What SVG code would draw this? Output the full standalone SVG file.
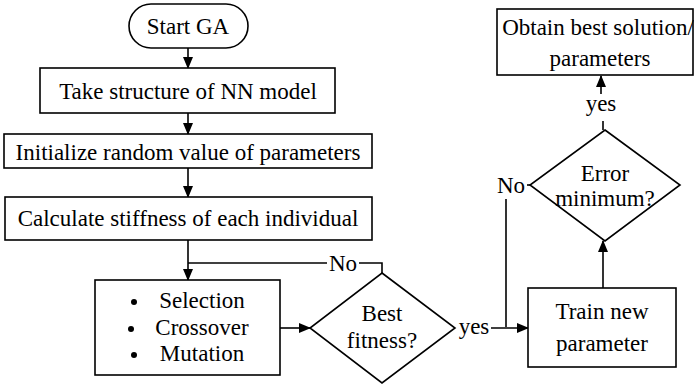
<svg xmlns="http://www.w3.org/2000/svg" width="694" height="384" viewBox="0 0 694 384">
<style>
.n{fill:#fff;stroke:#000;stroke-width:1.6}
.t{font-family:"Liberation Serif","Times New Roman",serif;font-size:23px;fill:#000;text-anchor:middle}
.c{fill:none;stroke:#000;stroke-width:1.6}
</style>
<defs>
<marker id="a" markerWidth="12" markerHeight="12" refX="11" refY="5" orient="auto" markerUnits="userSpaceOnUse" viewBox="0 0 12 10">
<path d="M0,0 L12,5 L0,10 Z" fill="#000"/>
</marker>
</defs>
<rect width="694" height="384" fill="#fff"/>
<g id="connectors">
<line class="c" x1="188" y1="48" x2="188" y2="68" marker-end="url(#a)"/>
<line class="c" x1="188" y1="113" x2="188" y2="134" marker-end="url(#a)"/>
<line class="c" x1="188" y1="168" x2="188" y2="197" marker-end="url(#a)"/>
<line class="c" x1="188" y1="240" x2="188" y2="280" marker-end="url(#a)"/>
<polyline class="c" points="188,263 327,263"/>
<polyline class="c" points="359,263 382,263 382,273"/>
<text class="t" x="343" y="271">No</text>
<line class="c" x1="280" y1="328" x2="310" y2="328" marker-end="url(#a)"/>
<text class="t" x="474" y="334">yes</text>
<line class="c" x1="491" y1="328" x2="528" y2="328" marker-end="url(#a)"/>
<polyline class="c" points="506,327 506,199"/>
<text class="t" x="511" y="193">No</text>
<line class="c" x1="527" y1="185" x2="530" y2="185"/>
<line class="c" x1="603" y1="288" x2="603" y2="241" marker-end="url(#a)"/>
<line class="c" x1="603" y1="130" x2="603" y2="121"/>
<text class="t" x="601" y="111">yes</text>
<line class="c" x1="601" y1="94" x2="601" y2="76" marker-end="url(#a)"/>
</g>
<g id="start">
<rect class="n" x="129" y="4" width="119" height="44" rx="22"/>
<text class="t" x="188" y="34">Start GA</text>
</g>
<g id="take">
<rect class="n" x="40" y="68" width="295" height="45"/>
<text class="t" x="188" y="99">Take structure of NN model</text>
</g>
<g id="init">
<rect class="n" x="4" y="134" width="368" height="34"/>
<text class="t" x="188" y="160">Initialize random value of parameters</text>
</g>
<g id="calc">
<rect class="n" x="5" y="197" width="367" height="43"/>
<text class="t" x="188" y="226">Calculate stiffness of each individual</text>
</g>
<g id="ops">
<rect class="n" x="95" y="280" width="185" height="95"/>
<circle cx="134" cy="302" r="3"/>
<circle cx="131" cy="329" r="3"/>
<circle cx="134" cy="355" r="3"/>
<text class="t" x="202" y="308">Selection</text>
<text class="t" x="202" y="335">Crossover</text>
<text class="t" x="202" y="361">Mutation</text>
</g>
<g id="best">
<polygon class="n" points="382,273 455,328 382,383 310,328"/>
<text class="t" x="382" y="321">Best</text>
<text class="t" x="382" y="348">fitness?</text>
</g>
<g id="train">
<rect class="n" x="528" y="288" width="148" height="79"/>
<text class="t" x="602" y="319">Train new</text>
<text class="t" x="602" y="351">parameter</text>
</g>
<g id="error">
<polygon class="n" points="605,130 680,185 605,241 530,185"/>
<text class="t" x="605" y="181">Error</text>
<text class="t" x="605" y="206">minimum?</text>
</g>
<g id="obtain">
<rect class="n" x="497" y="9" width="196" height="66"/>
<text class="t" x="598" y="35">Obtain best solution/</text>
<text class="t" x="600" y="66">parameters</text>
</g>
</svg>
